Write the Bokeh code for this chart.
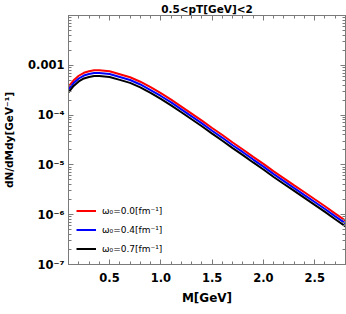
from bokeh.plotting import figure
from bokeh.models import (Range1d, FixedTicker, LinearAxis, LogAxis,
                          CustomJSTickFormatter)
from bokeh.embed import file_html
from bokeh.resources import INLINE

# ---- data ----
mass = [0.1, 0.15, 0.2, 0.25, 0.3, 0.35, 0.4, 0.5, 0.6, 0.7, 0.8, 0.9, 1.0,
        1.1, 1.2, 1.3, 1.4, 1.5, 1.6, 1.7, 1.8, 1.9, 2.0, 2.1, 2.2, 2.3,
        2.4, 2.5, 2.6, 2.7, 2.8]
red_w00 = [3.72e-4, 5.00e-4, 6.17e-4, 7.08e-4, 7.59e-4, 7.94e-4, 7.94e-4,
           7.59e-4, 6.61e-4, 5.75e-4, 4.68e-4, 3.63e-4, 2.75e-4, 2.04e-4,
           1.48e-4, 1.07e-4, 7.76e-5, 5.50e-5, 3.98e-5, 2.82e-5, 2.04e-5,
           1.45e-5, 1.05e-5, 7.41e-6, 5.37e-6, 3.89e-6, 2.82e-6, 2.04e-6,
           1.48e-6, 1.05e-6, 7.59e-7]
blue_w04 = [3.27e-4, 4.40e-4, 5.43e-4, 6.23e-4, 6.68e-4, 6.99e-4, 6.99e-4,
            6.68e-4, 5.82e-4, 5.06e-4, 4.12e-4, 3.19e-4, 2.42e-4, 1.80e-4,
            1.30e-4, 9.42e-5, 6.83e-5, 4.84e-5, 3.50e-5, 2.48e-5, 1.80e-5,
            1.28e-5, 9.24e-6, 6.52e-6, 4.73e-6, 3.42e-6, 2.48e-6, 1.80e-6,
            1.30e-6, 9.24e-7, 6.68e-7]
black_w07 = [2.86e-4, 3.85e-4, 4.75e-4, 5.45e-4, 5.84e-4, 6.11e-4, 6.11e-4,
             5.84e-4, 5.09e-4, 4.43e-4, 3.60e-4, 2.80e-4, 2.12e-4, 1.57e-4,
             1.14e-4, 8.24e-5, 5.98e-5, 4.24e-5, 3.06e-5, 2.17e-5, 1.57e-5,
             1.12e-5, 8.09e-6, 5.71e-6, 4.13e-6, 3.00e-6, 2.17e-6, 1.57e-6,
             1.14e-6, 8.09e-7, 5.84e-7]
series_labels = ["ω₀=0.0[fm⁻¹]", "ω₀=0.4[fm⁻¹]", "ω₀=0.7[fm⁻¹]"]
series_colors = ["#ff0000", "#0000ff", "#000000"]

title_text = "0.5<pT[GeV]<2"
x_title = "M[GeV]"
y_title = "dN/dMdy[GeV⁻¹]"
x_major = [0.5, 1.0, 1.5, 2.0, 2.5]
x_labels = ["0.5", "1.0", "1.5", "2.0", "2.5"]
y_major = [1e-7, 1e-6, 1e-5, 1e-4, 1e-3, 1e-2]
y_labels = ["10⁻⁷", "10⁻⁶", "10⁻⁵", "10⁻⁴", "0.001", ""]

FONT = "DejaVu Sans"
AXIS_COLOR = "#7a7a7a"

x_minor = [round(0.1 * k, 1) for k in range(1, 29)]
y_minor = [m * 10.0 ** e for e in range(-7, -2) for m in range(1, 11)]

p = figure(width=346, height=314, output_backend="svg", toolbar_location=None,
           y_axis_type="log", x_range=Range1d(0.1, 2.8),
           y_range=Range1d(1e-7, 1e-2),
           min_border_left=68, min_border_right=1, min_border_top=15,
           min_border_bottom=50)
p.xgrid.visible = False
p.ygrid.visible = False
p.outline_line_color = AXIS_COLOR
p.background_fill_color = "white"
p.border_fill_color = "white"

p.title.text = title_text
p.title.align = "center"
p.title.text_font = FONT
p.title.text_font_style = "bold"
p.title.text_font_size = "10.5px"
p.title.text_color = "black"
p.title.standoff = 1

for ys, lab, col in zip([red_w00, blue_w04, black_w07], series_labels, series_colors):
    p.line(mass, ys, line_color=col, line_width=2, legend_label=lab)

xt = FixedTicker(ticks=x_major, minor_ticks=x_minor)
yt = FixedTicker(ticks=y_major, minor_ticks=y_minor)


def style_axis(ax, ticker, show_labels):
    ax.ticker = ticker
    ax.axis_line_color = AXIS_COLOR
    ax.major_tick_line_color = AXIS_COLOR
    ax.minor_tick_line_color = AXIS_COLOR
    ax.major_tick_out = 0
    ax.major_tick_in = 5
    ax.minor_tick_out = 0
    ax.minor_tick_in = 3
    ax.major_label_text_font = FONT
    ax.major_label_text_font_style = "bold"
    ax.major_label_text_color = "black"
    ax.axis_label_text_font = FONT
    ax.axis_label_text_font_style = "bold"
    ax.axis_label_text_color = "black"
    if not show_labels:
        ax.formatter = CustomJSTickFormatter(code="return '';")
        ax.major_label_text_font_size = "1px"
        ax.major_label_standoff = 0


xa = p.xaxis[0]
style_axis(xa, xt, True)
xa.major_label_text_font_size = "11.5px"
xa.major_label_standoff = 8
xa.major_label_overrides = {v: s for v, s in zip(x_major, x_labels)}
xa.axis_label = x_title
xa.axis_label_text_font_size = "12px"
xa.axis_label_standoff = 6

ya = p.yaxis[0]
style_axis(ya, yt, True)
ya.major_label_text_font_size = "11.5px"
ya.major_label_standoff = 4
ya.major_label_overrides = {v: s for v, s in zip(y_major, y_labels)}
ya.axis_label = y_title
ya.axis_label_text_font_size = "10.5px"
ya.axis_label_standoff = 10

top_ax = LinearAxis()
style_axis(top_ax, xt, False)
p.add_layout(top_ax, "above")

right_ax = LogAxis()
style_axis(right_ax, yt, False)
p.add_layout(right_ax, "right")

lg = p.legend[0]
lg.location = (8, 8)
lg.padding = 0
lg.margin = 0
lg.spacing = 4
lg.glyph_width = 20
lg.glyph_height = 15
lg.label_height = 15
lg.label_standoff = 6
lg.label_text_font = FONT
lg.label_text_font_size = "9px"
lg.label_text_color = "black"
lg.background_fill_alpha = 0
lg.border_line_color = None

open("out.html", "w").write(file_html(p, INLINE))
